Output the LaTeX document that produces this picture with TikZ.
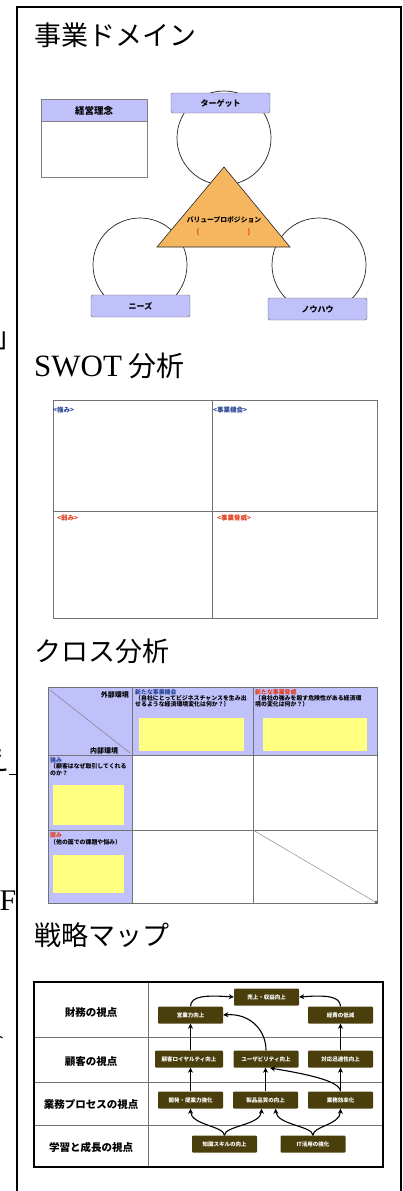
\documentclass[tikz,border=0pt]{standalone}
\usepackage{fontspec}
\setmainfont{Liberation Serif}
\newfontfamily\jp{Noto Sans CJK JP}
\usetikzlibrary{arrows.meta,calc}
\newcommand\fsz[1]{\fontsize{#1}{#1}\selectfont}
\definecolor{lav}{RGB}{192,192,250}
\definecolor{orng}{RGB}{246,182,96}
\definecolor{yel}{RGB}{255,255,128}
\definecolor{olv}{RGB}{74,62,12}
\definecolor{bl}{RGB}{40,70,150}
\definecolor{rd}{RGB}{225,60,25}
\begin{document}
\begin{tikzpicture}[x=1pt,y=-1pt,
  title/.style={anchor=west,inner sep=0,font=\jp\fsz{27}},
  circ/.style={circle,draw=black!85,line width=0.7pt,minimum size=94pt,inner sep=0},
  tab/.style={draw=gray!80!black,fill=lav,rounded corners=1.5pt,minimum width=99pt,inner sep=0,font=\jp\bfseries\fsz{8}},
  lab/.style={anchor=west,inner sep=0,font=\jp\bfseries\fsz{6.5}},
  small/.style={anchor=west,inner sep=0,font=\jp\bfseries\fsz{5.9}},
  grid/.style={draw=black!55,line width=0.6pt},
  sm/.style={fill=olv,text=white,minimum width=65pt,minimum height=17pt,inner sep=0,rounded corners=1pt,font=\jp\bfseries\fsz{5.5}},
  rowlab/.style={inner sep=0,font=\jp\bfseries\fsz{10.5}},
  arr/.style={line width=1.1pt,-{Stealth[length=5pt,width=5pt]}}
]
\useasboundingbox (0,0) rectangle (402,1191);
\fill[white] (0,0) rectangle (402,1191);

% cut-off fragments at the left margin
\begin{scope}
\clip (0,0) rectangle (16.4,1191);
\node[inner sep=0,font=\jp\fsz{28}] (f1) at (9,341) {」};
\node[inner sep=0,font=\jp\fsz{28}] (f2) at (-5,760) {え};
\node[inner sep=0,anchor=east,font=\fsz{30}] (f3) at (16.5,901) {F};
\node[inner sep=0,font=\jp\fsz{14}] (f4) at (-2,1037) {ト};
\end{scope}
\draw[line width=0.8pt] (9,774) -- (17,774);

% frame
\draw[line width=1.2pt] (17,1191) -- (17,7) -- (401,7) -- (401,1191);

% titles
\node[title] (t1) at (34,35) {事業ドメイン};
\node[title] (t2) at (34,366) {{\rmfamily\fsz{31}SWOT} {\fsz{28}分析}};
\node[title] (t3) at (34,651) {クロス分析};
\node[title] (t4) at (34,935) {戦略マップ};

% ---------- business domain ----------
\draw[draw=gray,fill=white,line width=0.6pt] (41,99) rectangle (147,177);
\draw[draw=gray,fill=lav,line width=0.6pt] (41,99) rectangle (147,121);
\node[inner sep=0,font=\jp\bfseries\fsz{9.5}] (kri) at (94,110.5) {経営理念};

\node[circ] (cT) at (224,138) {};
\node[circ] (cN) at (140,265) {};
\node[circ] (cK) at (319,265) {};
\node[tab,minimum height=20pt] (tT) at (220.5,103) {ターゲット};
\node[tab,minimum height=22pt] (tN) at (140.5,306) {ニーズ};
\node[tab,minimum height=22pt] (tK) at (317.5,309) {ノウハウ};
\draw[fill=orng,draw=black!85,line width=0.6pt] (224,167) -- (157,247) -- (290,247) -- cycle;
\node[inner sep=0,font=\jp\bfseries\fsz{6.8}] (vp) at (224,220) {バリュープロポジション};
\node[inner sep=0,text=rd,font=\jp\bfseries\fsz{7}] (vpl) at (198,232) {(};
\node[inner sep=0,text=rd,font=\jp\bfseries\fsz{7}] (vpr) at (249,232) {)};

% ---------- SWOT ----------
\draw[grid] (53,400) rectangle (377,618);
\draw[grid] (212,400) -- (212,618);
\draw[grid] (53,511) -- (377,511);
\node[lab,text=bl] (s1) at (53,410) {<強み>};
\node[lab,text=bl] (s2) at (213,410) {<事業機会>};
\node[lab,text=rd] (s3) at (57,518) {<弱み>};
\node[lab,text=rd] (s4) at (217,518) {<事業脅威>};

% ---------- cross analysis ----------
\fill[lav] (48,687) rectangle (377,755);
\fill[lav] (48,755) rectangle (132,903);
\draw[grid] (48,687) rectangle (377,903);
\draw[grid] (132,687) -- (132,903);
\draw[grid] (253,687) -- (253,903);
\draw[grid] (48,755) -- (377,755);
\draw[grid] (48,830) -- (377,830);
\draw[draw=black!50,line width=0.5pt] (50,690) -- (130,753);
\draw[draw=black!45,line width=0.5pt] (253,830) -- (377,903);
\fill[black!60] (375,901) rectangle (378,904);

\node[inner sep=0,anchor=east,font=\jp\bfseries\fsz{7}] (ex) at (129,695) {外部環境};
\node[inner sep=0,font=\jp\bfseries\fsz{7}] (in) at (104,751) {内部環境};

\node[small,text=bl] (h1a) at (135,692) {新たな事業機会};
\node[small] (h1b) at (135,698.3) {（自社にとってビジネスチャンスを生み出};
\node[small] (h1c) at (135,704.5) {せるような経済環境変化は何か？）};
\fill[yel] (139,718) rectangle (244,751);
\node[small,text=rd] (h2a) at (255,692) {新たな事業脅威};
\node[small] (h2b) at (255,698.3) {（自社の強みを殺す危険性がある経済環};
\node[small] (h2c) at (255,704.5) {境の変化は何か？）};
\fill[yel] (263,718) rectangle (367,751);

\node[small,text=bl] (v1a) at (50,760) {強み};
\node[small] (v1b) at (50,766.5) {（顧客はなぜ取引してくれる};
\node[small] (v1c) at (50,773) {のか？};
\fill[yel] (53,785) rectangle (124,825);
\node[small,text=rd] (v2a) at (50,835) {弱み};
\node[small] (v2b) at (50,842) {（他の面での課題や悩み）};
\fill[yel] (53,855) rectangle (124,893);

% ---------- strategy map ----------
\draw[draw=black!55,line width=0.7pt] (148,982) -- (148,1167);
\draw[draw=black!55,line width=0.7pt] (34,1037) -- (383,1037);
\draw[draw=black!55,line width=0.7pt] (34,1082) -- (383,1082);
\draw[draw=black!55,line width=0.7pt] (34,1125) -- (383,1125);
\draw[line width=1.6pt] (34,982) rectangle (383,1167);

\node[rowlab] (r1) at (91,1013) {財務の視点};
\node[rowlab] (r2) at (91,1062) {顧客の視点};
\node[rowlab] (r3) at (91,1104) {業務プロセスの視点};
\node[rowlab] (r4) at (91,1147) {学習と成長の視点};

\node[sm] (sales) at (266.5,997) {売上・収益向上};
\node[sm] (yy) at (190.5,1015) {営業力向上};
\node[sm] (kh) at (340.5,1015) {経費の低減};
\node[sm,minimum width=68pt] (kr2) at (189,1059) {顧客ロイヤルティ向上};
\node[sm] (ub) at (266,1059) {ユーザビリティ向上};
\node[sm] (tj) at (340.5,1059) {対応迅速性向上};
\node[sm] (kt) at (190.5,1100) {開発・提案力強化};
\node[sm] (sh) at (265.5,1100) {製品品質の向上};
\node[sm] (gk) at (340.5,1100) {業務効率化};
\node[sm] (zs) at (224.5,1144) {知識スキルの向上};
\node[sm] (it) at (313,1144) {IT活用の強化};

\draw[arr] (yy.north) .. controls (191,996) and (205,995) .. (sales.west);
\draw[arr] (kh.north) .. controls (340,996) and (326,995) .. (sales.east);
\draw[arr] (kr2.north -| yy) -- (yy.south);
\draw[arr] (ub.north) .. controls (266,1030) and (250,1013) .. (yy.east);
\draw[arr] (tj.north) -- (kh.south);
\draw[arr] (kt.north) -- (kt.north |- kr2.south);
\draw[arr] (sh.north) -- (sh.north |- ub.south);
\draw[arr] (gk.north) -- (tj.south);
\coordinate (ubin) at (270,1068);
\draw[arr] (gk.north) .. controls (340,1080) and (300,1073) .. (ubin);
\draw[arr] (zs.north) .. controls (224,1126) and (191,1125) .. (kt.south);
\draw[arr] (zs.north) .. controls (224,1126) and (261,1125) .. ($(sh.south)+(-4,0)$);
\draw[arr] (it.north) .. controls (313,1126) and (277,1125) .. ($(sh.south)+(10,0)$);
\draw[arr] (it.north) .. controls (313,1126) and (340,1125) .. (gk.south);
\end{tikzpicture}
\end{document}
